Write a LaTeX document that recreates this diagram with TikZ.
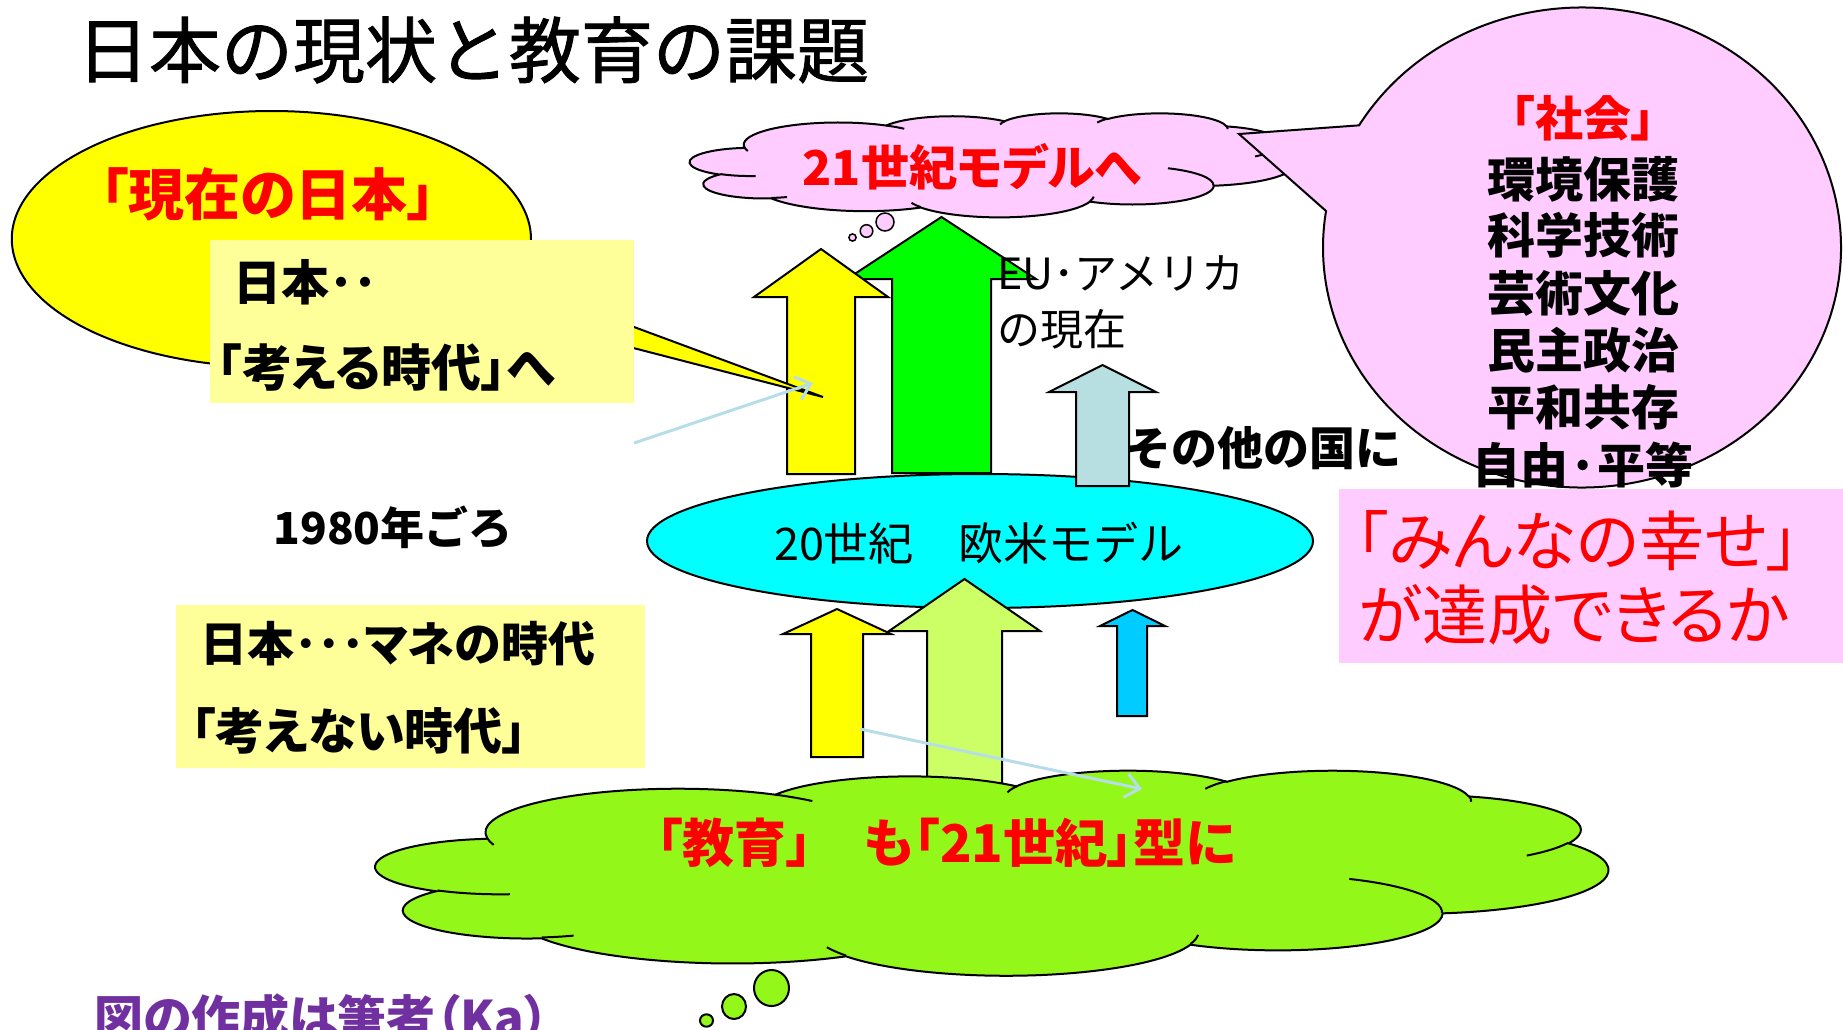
\documentclass[tikz,border=0pt]{standalone}
\usepackage{fontspec}
\newfontfamily\jp{Noto Sans CJK JP}
\newfontfamily\jpt{Noto Sans CJK JP}[FakeBold=1.2]
\newfontfamily\jpp{Noto Sans CJK JP}[RawFeature=+palt]
\usetikzlibrary{arrows.meta}
\definecolor{ylw}{HTML}{FFFF00}
\definecolor{lyl}{HTML}{FFFF99}
\definecolor{grn}{HTML}{00FF00}
\definecolor{pbl}{HTML}{B7DEE0}
\definecolor{cya}{HTML}{00FFFF}
\definecolor{lgr}{HTML}{CCFF66}
\definecolor{sky}{HTML}{00CCFF}
\definecolor{cgr}{HTML}{93F81A}
\definecolor{pnk}{HTML}{FFCCFF}
\definecolor{thinc}{HTML}{B7DDE8}
\definecolor{purp}{HTML}{7030A0}
\definecolor{rd}{HTML}{FF0000}
\newcommand\fsz[1]{\fontsize{#1}{#1}\selectfont}
\tikzset{
  lbl/.style={inner sep=0pt, outer sep=0pt},
  outl/.style={draw=black, line width=2pt, line join=miter},
  thinarrow/.style={draw=thinc, line width=3pt, -{Straight Barb[length=14pt,width=24pt]}},
}
% OOXML-style arc angles (visual -> parametric, in path space)
\newcommand\oo[6]{%
  \pgfmathsetmacro\ook{#4/#5*#6}%
  \pgfmathsetmacro\oot{atan2(\ook*sin(#2),cos(#2))}%
  \pgfmathsetmacro\oos{\oot+360*round(((#2)-(\oot))/360)}%
  \pgfmathsetmacro\oot{atan2(\ook*sin(#2+#3),cos(#2+#3))}%
  \pgfmathsetmacro\ooe{\oot+360*round(((#2+#3)-(\oot))/360)}%
  \expandafter\let\csname #1s\endcsname\oos
  \expandafter\let\csname #1e\endcsname\ooe
}
\newcommand\ppcloud[5]{%
  \def\asp{1}%
  \oo{cA}{-190.4875}{123.7805}{67.53}{91.90}{\asp}%
  \oo{cB}{-144.1024}{89.9452}{53.33}{72.67}{\asp}%
  \oo{cC}{-145.8079}{99.7230}{43.65}{59.45}{\asp}%
  \oo{cD}{-130.9861}{117.2417}{48.57}{65.95}{\asp}%
  \oo{cE}{-78.7089}{109.0269}{53.33}{72.73}{\asp}%
  \oo{cF}{-46.2673}{130.2690}{67.75}{92.20}{\asp}%
  \oo{cG}{0.6250}{114.0333}{57.85}{78.67}{\asp}%
  \oo{cH}{22.4516}{115.1726}{67.52}{92.15}{\asp}%
  \oo{cI}{66.2426}{75.7110}{77.20}{105.43}{\asp}%
  \oo{cJ}{-274.9421}{146.7356}{43.60}{59.18}{\asp}%
  \oo{cK}{-246.8285}{152.5189}{43.45}{59.45}{\asp}%
  \oo{iA}{86.7420}{26.4295}{43.45}{59.45}{\asp}%
  \oo{iB}{73.6105}{11.4475}{43.60}{59.18}{\asp}%
  \oo{iC}{137.6242}{14.0811}{67.52}{92.15}{\asp}%
  \oo{iD}{6.4533}{15.9984}{67.52}{92.15}{\asp}%
  \oo{iE}{-70.2924}{70.9174}{57.85}{78.67}{\asp}%
  \oo{iF}{30.3180}{27.7515}{53.33}{72.73}{\asp}%
  \oo{iG}{-13.7443}{14.8589}{48.57}{65.95}{\asp}%
  \oo{iH}{-149.1815}{18.1954}{48.57}{65.95}{\asp}%
  \oo{iI}{-163.4943}{17.6864}{43.65}{59.45}{\asp}%
  \oo{iJ}{-66.7070}{12.3194}{67.53}{91.90}{\asp}%
  \oo{iK}{157.6544}{11.8582}{67.53}{91.90}{\asp}%
  \pgfmathsetmacro\sx{#3/432}\pgfmathsetmacro\sy{#4/432}%
  \begin{scope}[shift={(#1,#2)}, x=\sx pt, y=-\sy pt]
    \filldraw[fill=#5, outl] (39.00,143.70)
      arc[start angle=\cAs, end angle=\cAe, x radius=67.53, y radius=91.90]
      arc[start angle=\cBs, end angle=\cBe, x radius=53.33, y radius=72.67]
      arc[start angle=\cCs, end angle=\cCe, x radius=43.65, y radius=59.45]
      arc[start angle=\cDs, end angle=\cDe, x radius=48.57, y radius=65.95]
      arc[start angle=\cEs, end angle=\cEe, x radius=53.33, y radius=72.73]
      arc[start angle=\cFs, end angle=\cFe, x radius=67.75, y radius=92.20]
      arc[start angle=\cGs, end angle=\cGe, x radius=57.85, y radius=78.67]
      arc[start angle=\cHs, end angle=\cHe, x radius=67.52, y radius=92.15]
      arc[start angle=\cIs, end angle=\cIe, x radius=77.20, y radius=105.43]
      arc[start angle=\cJs, end angle=\cJe, x radius=43.60, y radius=59.18]
      arc[start angle=\cKs, end angle=\cKe, x radius=43.45, y radius=59.45]
      -- cycle;
    \draw[draw=black, line width=2pt]
      (46.93,261.77) arc[start angle=\iAs, end angle=\iAe, x radius=43.45, y radius=59.45]
      (69.28,348.99) arc[start angle=\iBs, end angle=\iBe, x radius=43.60, y radius=59.18]
      (164.78,390.90) arc[start angle=\iCs, end angle=\iCe, x radius=67.52, y radius=92.15]
      (288.27,347.51) arc[start angle=\iDs, end angle=\iDe, x radius=67.52, y radius=92.15]
      (341.29,229.54) arc[start angle=\iEs, end angle=\iEe, x radius=57.85, y radius=78.67]
      (417.98,153.54) arc[start angle=\iFs, end angle=\iFe, x radius=53.33, y radius=72.73]
      (383.24,54.26) arc[start angle=\iGs, end angle=\iGe, x radius=48.57, y radius=65.95]
      (290.78,39.52) arc[start angle=\iHs, end angle=\iHe, x radius=48.57, y radius=65.95]
      (221.41,47.20) arc[start angle=\iIs, end angle=\iIe, x radius=43.65, y radius=59.45]
      (140.00,51.92) arc[start angle=\iJs, end angle=\iJe, x radius=67.53, y radius=91.90]
      (41.27,157.89) arc[start angle=\iKs, end angle=\iKe, x radius=67.53, y radius=91.90];
  \end{scope}}
% block up arrow: fill, shaftL, shaftR, headL, headR, tipY, wingY, bottomY
\newcommand\uparr[8]{%
  \filldraw[fill=#1, outl] (#2,#8) -- (#2,#7) -- (#4,#7) -- ({(#4+#5)/2},#6)
    -- (#5,#7) -- (#3,#7) -- (#3,#8) -- cycle;}
\begin{document}
\begin{tikzpicture}[x=1pt,y=-1pt]
\useasboundingbox (0,0) rectangle (1843,1029);
\fill[white] (0,0) rectangle (1843,1029);

% pink thought cloud
\ppcloud{690}{113}{605}{104}{pnk}
\filldraw[fill=pnk, draw=black, line width=1.5pt]
  (885,222) circle[radius=9] (866.5,231) circle[radius=6.3] (852.5,237.5) circle[radius=3.6];

% big pink callout
\filldraw[fill=pnk, outl] (1582,247.5) ++(-149.4:259 and 240)
  arc[start angle=-149.4, end angle=188.75, x radius=259, y radius=240] -- (1239,134) -- cycle;

% upper arrows
\uparr{grn}{892}{991}{847}{1036}{217}{279}{473}
\uparr{ylw}{787}{855}{754}{888}{249}{297}{474}

% yellow callout
\filldraw[fill=ylw, outl] (271.4,239) ++(33.8:259.6 and 128)
  arc[start angle=33.8, end angle=380.1, x radius=259.6, y radius=128] -- (823,397) -- cycle;
\fill[lyl] (210,240) rectangle (634,403);

% cyan ellipse
\filldraw[fill=cya, outl] (980,541) ellipse[x radius=333, y radius=67];
\uparr{pbl}{1076}{1129}{1049}{1156}{365}{392}{486}

% lower arrows
\uparr{lgr}{927}{1002}{889}{1040}{579}{631}{820}
\uparr{ylw}{811}{863}{783}{891}{609}{634}{757}
\uparr{sky}{1117}{1147}{1100}{1165}{610}{626}{716}

% green cloud
\ppcloud{376}{770}{1232}{205}{cgr}
\filldraw[fill=cgr, draw=black, line width=2pt]
  (771.5,988) ellipse[x radius=17.5, y radius=18] (734,1006.5) ellipse[x radius=12, y radius=12.5]
  (706.5,1020.5) ellipse[x radius=6.5, y radius=6.2];

\fill[lyl] (176,605) rectangle (645,768);
\fill[pnk] (1339,489) rectangle (1843,663);

% texts
\node[lbl, font=\jpt\fsz{72}] (title) at (473,50) {日本の現状と教育の課題};
\node[lbl, font=\jpp\bfseries\fsz{56}, text=rd] (genzai) at (268,194) {「現在の日本」};
\node[lbl, anchor=west, font=\jpp\bfseries\fsz{48}] (nihon1) at (233,282) {日本･･};
\node[lbl, anchor=west, font=\jpp\bfseries\fsz{50}] (kangaeru) at (217,368) {「考える時代」へ};
\node[lbl, font=\jpp\bfseries\fsz{48}, text=rd] (m21) at (972,167) {21世紀モデルへ};
\node[lbl, anchor=west, font=\jp\fsz{43}] (eu) at (997,273) {EU･アメリカ};
\node[lbl, anchor=west, font=\jp\fsz{43}] (eu2) at (997,329) {の現在};
\node[lbl, font=\jp\bfseries\fsz{46}] (sonota) at (1263,448) {その他の国に};
\node[lbl, font=\jp\fsz{45}] (m20) at (979,543) {20世紀　欧米モデル};
\node[lbl, font=\jp\bfseries\fsz{44}] (y1980) at (393,527) {1980年ごろ};
\node[lbl, anchor=west, font=\jpp\bfseries\fsz{47}] (mane) at (200,644) {日本･･･マネの時代};
\node[lbl, anchor=west, font=\jpp\bfseries\fsz{49}] (kangaenai) at (191,731) {「考えない時代」};
\node[lbl, font=\jpp\bfseries\fsz{52}, text=rd] (kyoiku) at (946,843) {「教育」　も「21世紀」型に};
\node[lbl, font=\jpp\bfseries\fsz{48}, text=rd] (shakai) at (1583,118) {「社会」};
\node[lbl, font=\jp\bfseries\fsz{48}] (s1) at (1583,179) {環境保護};
\node[lbl, font=\jp\bfseries\fsz{48}] (s2) at (1583,235) {科学技術};
\node[lbl, font=\jp\bfseries\fsz{48}] (s3) at (1583,293) {芸術文化};
\node[lbl, font=\jp\bfseries\fsz{48}] (s4) at (1583,350) {民主政治};
\node[lbl, font=\jp\bfseries\fsz{48}] (s5) at (1583,407) {平和共存};
\node[lbl, font=\jp\bfseries\fsz{48}] (s6) at (1583,465) {自由·平等};
\node[lbl, anchor=west, font=\jpp\fsz{65}, text=rd] (minna1) at (1356,541) {「みんなの幸せ」};
\node[lbl, anchor=west, font=\jpp\fsz{65}, text=rd] (minna2) at (1359,615) {が達成できるか};
\node[lbl, anchor=west, font=\jpp\bfseries\fsz{49}, text=purp] (credit) at (94,1018) {図の作成は筆者（Ka）};

% thin arrows
\coordinate (t1s) at (634,443);
\coordinate (t1e) at (813,383);
\coordinate (t2s) at (860,729);
\coordinate (t2e) at (1142,789);
\draw[thinarrow] (t1s) -- (t1e);
\draw[thinarrow] (t2s) -- (t2e);
\end{tikzpicture}
\end{document}
